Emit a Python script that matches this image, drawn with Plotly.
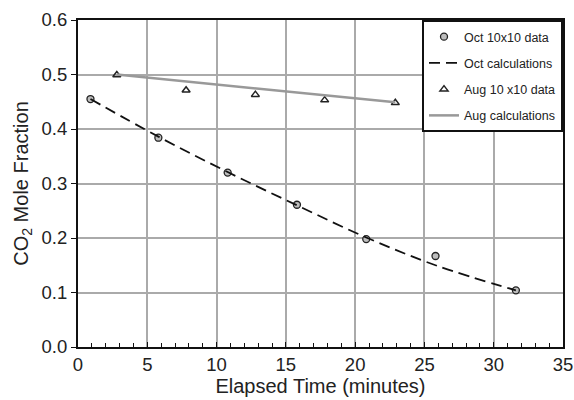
import plotly.graph_objects as go

# Oct 10x10 data
oct_t = [0.9, 5.8, 10.8, 15.8, 20.8, 25.8, 31.6]
oct_y = [0.455, 0.384, 0.320, 0.261, 0.198, 0.167, 0.104]
# Oct calculations
octc_t = [0.9, 5.8, 10.8, 15.8, 20.8, 25.8, 31.6]
octc_y = [0.455, 0.386, 0.321, 0.260, 0.201, 0.150, 0.104]
# Aug 10x10 data
aug_t = [2.8, 7.8, 12.8, 17.8, 22.9]
aug_y = [0.499, 0.471, 0.463, 0.453, 0.448]
# Aug calculations
augc_t = [2.8, 22.9]
augc_y = [0.500, 0.449]

x_ticks = [0, 5, 10, 15, 20, 25, 30, 35]
y_ticks = [0.0, 0.1, 0.2, 0.3, 0.4, 0.5, 0.6]

fig = go.Figure()
fig.add_trace(go.Scatter(x=oct_t, y=oct_y, mode="markers", name="Oct 10x10 data",
                         legendgroup="a",
                         marker=dict(symbol="circle", size=7, color="#bdbdbd",
                                     line=dict(color="#222", width=1.3))))
fig.add_trace(go.Scatter(x=octc_t, y=octc_y, mode="lines", name="Oct calculations",
                         legendgroup="b",
                         line=dict(color="#111", width=1.8, dash="11px,6px", shape="spline")))
fig.add_trace(go.Scatter(x=aug_t, y=aug_y, mode="markers", name="Aug 10 x10 data",
                         legendgroup="c",
                         marker=dict(symbol="triangle-up-open", size=7, color="#222",
                                     line=dict(color="#222", width=1.5))))
fig.add_trace(go.Scatter(x=augc_t, y=augc_y, mode="lines", name="Aug calculations",
                         legendgroup="d",
                         line=dict(color="#999", width=2.5)))

fig.update_layout(
    width=574, height=400,
    margin=dict(l=78, r=11, t=20, b=53, autoexpand=False),
    paper_bgcolor="white", plot_bgcolor="white",
    font=dict(family="Liberation Sans, Arial, sans-serif", color="#222"),
    showlegend=True,
    legend=dict(x=1, y=1, xanchor="right", yanchor="top",
                bordercolor="#111", borderwidth=2, bgcolor="white",
                font=dict(size=12.5), tracegroupgap=7, itemwidth=30),
    xaxis=dict(range=[0, 35], tickvals=x_ticks, ticktext=[str(v) for v in x_ticks],
               automargin=False,
               showgrid=True, gridcolor="#aaa", gridwidth=1.5,
               showline=True, linecolor="#111", linewidth=2, mirror=True,
               ticks="inside", ticklen=5, tickcolor="#111",
               tickfont=dict(size=18.5),
               minor=dict(dtick=1, ticks="inside", ticklen=4, tickcolor="#111", showgrid=False),
               title=dict(text="Elapsed Time (minutes)", font=dict(size=20), standoff=4),
               zeroline=False),
    yaxis=dict(range=[0, 0.6], tickvals=y_ticks, ticktext=[f"{v:.1f}" for v in y_ticks],
               automargin=False,
               showgrid=True, gridcolor="#aaa", gridwidth=1.5,
               showline=True, linecolor="#111", linewidth=2, mirror=True,
               ticks="outside", ticklen=5, tickcolor="#111",
               tickfont=dict(size=18.5),
               title=dict(text="CO<sub>2</sub> Mole Fraction", font=dict(size=20), standoff=8),
               zeroline=False),
)

fig.write_html("out.html", config={"displayModeBar": False},
               post_script="document.body.style.margin='0px';")
